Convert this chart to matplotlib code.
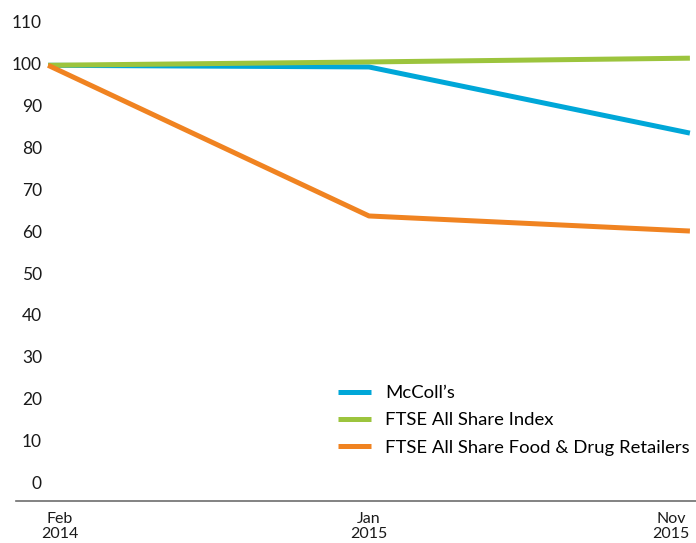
import matplotlib.pyplot as plt
from matplotlib.transforms import blended_transform_factory

plt.rcParams['font.family'] = ['Lato', 'DejaVu Sans']

# dati
periodi = ['Feb\n2014', 'Jan\n2015', 'Nov\n2015']
mccolls = [100, 99.6, 83.8]
ftse_all = [100, 100.8, 101.7]
ftse_food = [100, 64.0, 60.4]
serie = ["McColl’s", 'FTSE All Share Index', 'FTSE All Share Food & Drug Retailers']
colori = ['#00a7d8', '#9cc43d', '#f08321']
yticks = list(range(0, 111, 10))

fig = plt.figure(figsize=(6.96, 5.43), dpi=100)
ax = fig.add_axes([16/696, 42/543, 680/696, 501/543])

x = list(range(len(periodi)))
for vals, nome, col in zip([mccolls, ftse_all, ftse_food], serie, colori):
    ax.plot(x, vals, color=col, lw=3.6, label=nome, solid_capstyle='butt')

ax.set_xlim(-0.1, 2.019)
ax.set_ylim(-4.1, 115.6)
for s in ['top', 'right', 'left']:
    ax.spines[s].set_visible(False)
ax.spines['bottom'].set_color('#6d6d6d')
ax.spines['bottom'].set_linewidth(1.2)
ax.set_xticks([])
ax.set_yticks([])

# etichette asse y
for v in yticks:
    ax.text(-0.019, v, str(v), ha='right', va='center', fontsize=12.5, color='#1a1a1a')

# etichette asse x
tr = blended_transform_factory(ax.transData, ax.transAxes)
offs = [0.037, 0.0, 0.0]
allin = ['center', 'center', 'right']
for i, lab in enumerate(periodi):
    ax.text(x[i] + offs[i], -0.022, lab, ha=allin[i], va='top', fontsize=11.5,
            color='#1a1a1a', transform=tr, linespacing=1.05, multialignment='center')

ax.legend(loc='upper left', bbox_to_anchor=(338/696, 1 - 385/543), bbox_transform=fig.transFigure,
          frameon=False, fontsize=13.3, handlelength=1.78, handletextpad=0.76,
          labelspacing=0.62, borderpad=0, borderaxespad=0)

plt.savefig('out.png', dpi=100)
